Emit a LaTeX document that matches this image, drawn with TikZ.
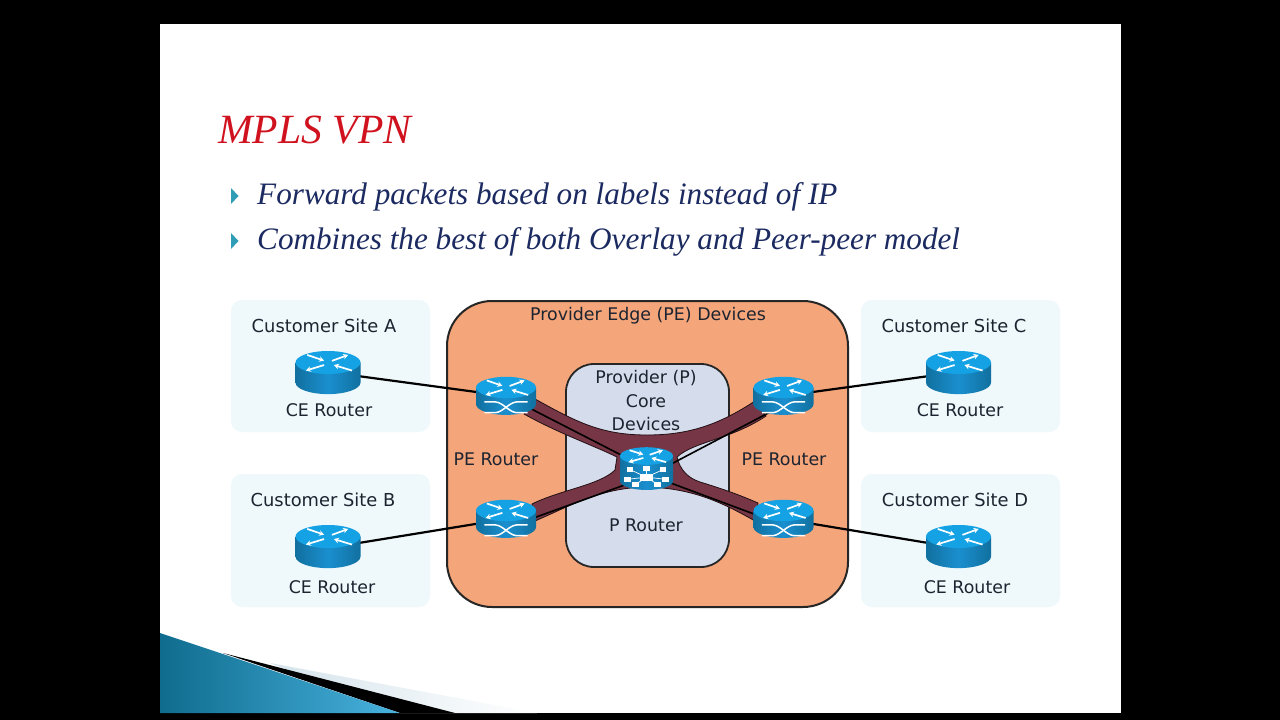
\documentclass[tikz,border=0pt]{standalone}
\usepackage{fontspec}
\setmainfont{Liberation Serif}
\newfontfamily\labfont{DejaVu Sans}
\usetikzlibrary{arrows.meta}
\definecolor{sitefill}{HTML}{EFF8FB}
\definecolor{orangefill}{HTML}{F4A57A}
\definecolor{corefill}{HTML}{D5DDEC}
\definecolor{tubefill}{HTML}{763645}
\definecolor{navy}{HTML}{1B2A60}
\definecolor{titlered}{HTML}{D0121F}
\definecolor{labtext}{HTML}{1C2430}
\definecolor{rtop}{HTML}{14A2E4}
\definecolor{rsideA}{HTML}{11709F}
\definecolor{rsideB}{HTML}{1A8FCF}
\definecolor{bullet}{HTML}{2E9DB5}
\definecolor{swooshA}{HTML}{0F6C8E}
\definecolor{swooshB}{HTML}{48B2DE}
\definecolor{paleA}{HTML}{D5E4EC}
\tikzset{
  site/.style={fill=sitefill,rounded corners=11pt},
  lab/.style={font=\labfont\fontsize{17.4}{21}\selectfont,text=labtext,inner sep=0pt,align=center},
  sitelab/.style={font=\labfont\fontsize{17.85}{21}\selectfont,text=labtext,inner sep=0pt,align=center},
  hub/.style={inner sep=0pt,minimum size=1pt},
  link/.style={draw=black,line width=2.2pt},
  thin link/.style={draw=black,line width=1.6pt},
  tube/.style={fill=tubefill,draw=black!70!tubefill,line width=.8pt},
  arr/.style={draw=white,line width=1.7pt,-{Stealth[length=5pt,width=5.5pt]}},
  cross/.style={draw=white,line width=1.5pt},
  bulletmark/.style={fill=bullet},
  headline/.style={font=\itshape\fontsize{41.6}{44}\selectfont,text=titlered,inner sep=0pt,anchor=base west},
  bodyline/.style={font=\itshape\fontsize{31.2}{36}\selectfont,text=navy,inner sep=0pt,anchor=base west},
}
% cylinder with the four arrows on its top: #1,#2 top-ellipse centre, #3 rx, #4 ry, #5 height in ry units
\newcommand\cylbase[5]{%
  \begin{scope}[shift={(#1,#2)},x=#3pt,y=-#4pt]
    \path[left color=rsideA,right color=rsideA,middle color=rsideB]
      (-1,0) -- (-1,#5) .. controls (-1,#5+.55) and (-.55,#5+1) .. (0,#5+1)
      .. controls (.55,#5+1) and (1,#5+.55) .. (1,#5) -- (1,0) -- cycle;
    \fill[rtop] (-1,0) .. controls (-1,-.55) and (-.55,-1) .. (0,-1)
      .. controls (.55,-1) and (1,-.55) .. (1,0)
      .. controls (1,.55) and (.55,1) .. (0,1)
      .. controls (-.55,1) and (-1,.55) .. (-1,0) -- cycle;
    \draw[arr] (-.64,-.66) -- (-.12,-.16);
    \draw[arr] (.12,-.14) -- (.62,-.66);
    \draw[arr] (-.12,.22) -- (-.68,.7);
    \draw[arr] (.74,.7) -- (.18,.22);
  \end{scope}}
\newcommand\cerouter[2]{\cylbase{#1}{#2}{32.5}{11.5}{1.75}}
\newcommand\perouter[2]{%
  \cylbase{#1}{#2}{30}{10.7}{1.56}
  \begin{scope}[shift={(#1,#2)},x=30pt,y=-10.7pt]
    \draw[cross] (-.72,1.35) -- (-.35,1.35) .. controls (-.1,1.4) and (.1,2.3) .. (.35,2.35) -- (.72,2.35);
    \draw[cross] (-.72,2.35) -- (-.35,2.35) .. controls (-.1,2.3) and (.1,1.4) .. (.35,1.35) -- (.72,1.35);
  \end{scope}}
\newcommand\prouter[2]{%
  \cylbase{#1}{#2}{26.5}{8.8}{2.86}
  \begin{scope}[shift={(#1,#2)},x=26.5pt,y=-8.8pt]
    \foreach \px/\py in {-.62/1.55,0/1.45,.62/1.55,-.72/2.65,.72/2.65,-.42/3.25,.42/3.25}{
      \draw[white,line width=.7pt] (0,2.4) -- (\px,\py);
      \fill[white] (\px-.12,\py-.26) rectangle (\px+.12,\py+.26);
    }
    \fill[white] (-.25,2) rectangle (.25,2.8);
  \end{scope}}
\begin{document}
\begin{tikzpicture}[x=1pt,y=-1pt]
\useasboundingbox (0,0) rectangle (1280,720);
\fill[black] (0,0) rectangle (1280,720);
\fill[white] (160,24) rectangle (1121,713);
% bottom-left swoosh
\path[left color=paleA,right color=white] (270,663) -- (537,713) -- (400,713) -- cycle;
\fill[black] (223,653) -- (455,713) -- (400,713) -- cycle;
\path[left color=swooshA,right color=swooshB] (160,633) -- (400,713) -- (160,713) -- cycle;
% heading and bullets
\node[headline] (title) at (218,143) {MPLS VPN};
\fill[bulletmark] (231,188) -- (238.5,196) -- (231,204) -- cycle;
\fill[bulletmark] (231,233) -- (238.5,241) -- (231,249) -- cycle;
\node[bodyline] (b1) at (257,204) {Forward packets based on labels instead of IP};
\node[bodyline] (b2) at (257,249) {Combines the best of both Overlay and Peer-peer model};
% panels
\fill[site] (231,300) rectangle (430,432);
\fill[site] (231,474) rectangle (430,607);
\fill[site] (861,300) rectangle (1060,432);
\fill[site] (861,474) rectangle (1060,607);
\draw[fill=orangefill,draw=black!85,line width=2pt,rounded corners=45pt] (447,301) rectangle (848,607);
\draw[fill=corefill,draw=black!85,line width=1.8pt,rounded corners=28pt] (566,364) rectangle (729,567);
% labels
\node[sitelab] (sa) at (324,326) {Customer Site A};
\node[lab] (ca) at (329,410) {CE Router};
\node[sitelab] (sb) at (323,500) {Customer Site B};
\node[lab] (cb) at (332,587) {CE Router};
\node[sitelab] (sc) at (954,326) {Customer Site C};
\node[lab] (cc) at (960,410) {CE Router};
\node[sitelab] (sd) at (955,500) {Customer Site D};
\node[lab] (cd) at (967,587) {CE Router};
\node[lab] (pe) at (648,316) {Provider Edge (PE) Devices};
\node[lab] (core1) at (646,378) {Provider (P)};
\node[lab] (core2) at (646,401) {Core};
\node[lab] (core3) at (646,424) {Devices};
\node[lab] (lpel) at (496,459) {PE Router};
\node[lab] (lper) at (784,459) {PE Router};
\node[lab] (lp) at (646,525) {P Router};
% router anchors
\node[hub] (rA) at (328,372) {};
\node[hub] (rB) at (328,548) {};
\node[hub] (rC) at (958.5,372) {};
\node[hub] (rD) at (958.5,548) {};
\node[hub] (peTL) at (506,396) {};
\node[hub] (peTR) at (783.5,396) {};
\node[hub] (peBL) at (506,519) {};
\node[hub] (peBR) at (783.5,519) {};
\node[hub] (pcore) at (646.5,468) {};
% core bundle
\path[tube] (535,399) .. controls (575,421) and (600,435) .. (647,435)
  .. controls (690,435) and (720,424) .. (755,401) -- (766,416)
  .. controls (730,440) and (695,441) .. (677,457)
  .. controls (680,470) and (688,478) .. (700,482)
  .. controls (720,488) and (740,495) .. (758,503) -- (755,521)
  .. controls (720,501) and (690,488) .. (646,487)
  .. controls (600,488) and (570,506) .. (535,521) -- (532,504)
  .. controls (560,490) and (600,485) .. (615,470) -- (617,457)
  .. controls (590,444) and (558,433) .. (524,414) -- cycle;
% links
\draw[link] (rA.center) -- (peTL.center);
\draw[link] (rB.center) -- (peBL.center);
\draw[link] (rC.center) -- (peTR.center);
\draw[link] (rD.center) -- (peBR.center);
\draw[thin link] (peTL.center) -- (pcore.center);
\draw[thin link] ([yshift=-9pt]peBL.center) -- ([yshift=-9pt]pcore.center);
\draw[thin link] ([yshift=-9pt]peTR.center) -- ([yshift=-9pt]pcore.center);
\draw[thin link] ([yshift=-6pt]peBR.center) -- ([yshift=-6pt]pcore.center);
% routers
\cerouter{328}{362.5}
\cerouter{328}{536.5}
\cerouter{958.5}{362.5}
\cerouter{958.5}{536.5}
\perouter{506}{387.5}
\perouter{783.5}{387.5}
\perouter{506}{510.5}
\perouter{783.5}{510.5}
\prouter{646.5}{456}
\end{tikzpicture}
\end{document}
